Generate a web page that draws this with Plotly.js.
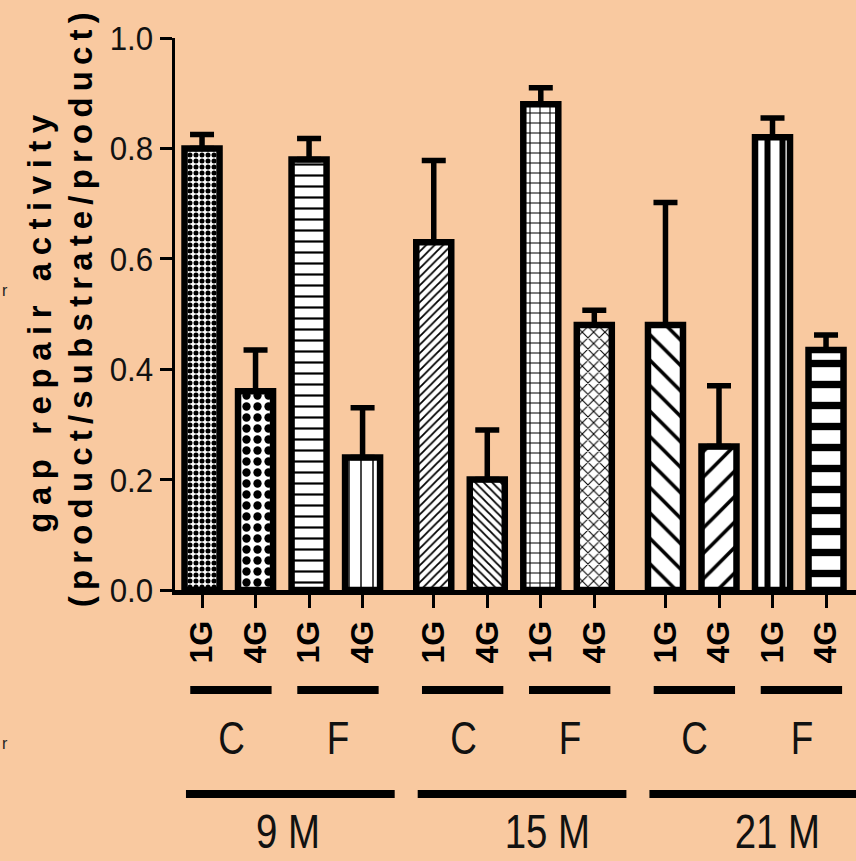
<!DOCTYPE html>
<html>
<head>
<meta charset="utf-8">
<script src="https://cdn.plot.ly/plotly-3.0.1.min.js"></script>
<style>html,body{margin:0;padding:0;background:#F9C9A0;}</style>
</head>
<body>
<div id="chart" style="width:856px;height:861px;"></div>
<script>
// ---- data ----
const ages = ['9 M', '15 M', '21 M'];
const diets = ['C', 'F'];
const gLabels = ['1G', '4G'];
const means = [0.80, 0.36, 0.78, 0.24, 0.63, 0.20, 0.88, 0.48, 0.48, 0.26, 0.82, 0.435];
const errsUp = [0.025, 0.075, 0.038, 0.09, 0.148, 0.09, 0.03, 0.027, 0.222, 0.11, 0.035, 0.027];
const yTitle1 = 'gap repair activity';
const yTitle2 = '(product/substrate/product)';

// ---- styles ----
const patShape = ['.', '.', '-', '|', '/', '\\', '+', 'x', '\\', '/', '|', '-'];
const patSize  = [6, 11, 11, 12, 6, 6, 10, 8, 18, 18, 15, 21];
const patSolid = [0.55, 0.45, 0.2, 0.12, 0.3, 0.3, 0.2, 0.25, 0.2, 0.2, 0.4, 0.35];
const GROUP_GAP = 0.33;
const SANS = '"Liberation Sans", Arial, sans-serif';
const BG = '#F9C9A0';

// ---- positions derived from structure ----
const xpos = [], ticktext = [];
ages.forEach((a, ai) => diets.forEach((d, di) => gLabels.forEach((g, gi) => {
  xpos.push(ai * (4 + GROUP_GAP) + di * 2 + gi);
  ticktext.push(g);
})));
const zeros = means.map(() => 0);

const shapes = [];
const annotations = [];
const yPaper = Y => (590 - Y) / 552;
ages.forEach((a, ai) => {
  const base = ai * (4 + GROUP_GAP);
  diets.forEach((d, di) => {
    const s = base + di * 2;
    shapes.push({type: 'line', xref: 'x', yref: 'paper', x0: s - 0.22, x1: s + 1 + 0.3,
      y0: yPaper(690), y1: yPaper(690), line: {color: 'black', width: 8}});
    annotations.push({xref: 'x', yref: 'paper', x: s + 0.55, y: yPaper(738), text: d,
      showarrow: false, xanchor: 'center', yanchor: 'middle',
      font: {family: SANS, size: 46, color: '#111'}});
  });
  shapes.push({type: 'line', xref: 'x', yref: 'paper', x0: base - 0.3, x1: base + 3.6,
    y0: yPaper(794), y1: yPaper(794), line: {color: 'black', width: 8}});
});
const ageLabelOffset = [1.6, 2.12, 2.1];
ages.forEach((a, ai) => {
  annotations.push({xref: 'x', yref: 'paper', x: ai * (4 + GROUP_GAP) + ageLabelOffset[ai], y: yPaper(831),
    text: a, showarrow: false, xanchor: 'center', yanchor: 'middle',
    font: {family: SANS, size: 48, color: '#111'}});
});
// y-axis title lines
annotations.push({xref: 'paper', yref: 'paper', x: 0, xshift: 39 - 175, y: yPaper(324), text: yTitle1,
  textangle: -90, showarrow: false, xanchor: 'center', yanchor: 'middle',
  font: {family: SANS, size: 33, weight: 'bold', color: 'black'}});
annotations.push({xref: 'paper', yref: 'paper', x: 0, xshift: 80 - 175, y: yPaper(310), text: yTitle2,
  textangle: -90, showarrow: false, xanchor: 'center', yanchor: 'middle',
  font: {family: SANS, size: 33, weight: 'bold', color: 'black'}});
// cropped stray letters at left edge
[290, 743].forEach(Y => annotations.push({xref: 'paper', yref: 'paper', x: 0, xshift: 5 - 175, y: yPaper(Y),
  text: 'r', showarrow: false, xanchor: 'center', yanchor: 'middle',
  font: {family: SANS, size: 16, color: '#222'}}));

const trace = {
  type: 'bar', x: xpos, y: means, width: 0.654,
  marker: {
    color: 'white',
    line: {color: 'black', width: 6.5},
    pattern: {shape: patShape, size: patSize, solidity: patSolid, fgcolor: 'black', bgcolor: 'white', fillmode: 'replace'}
  },
  error_y: {type: 'data', symmetric: false, array: errsUp, arrayminus: zeros, color: 'black', thickness: 5.5, width: 12},
  hoverinfo: 'skip'
};

const layout = {
  width: 856, height: 861,
  paper_bgcolor: BG, plot_bgcolor: 'rgba(0,0,0,0)',
  margin: {l: 175, r: 0, t: 38, b: 271, pad: 0},
  showlegend: false,
  xaxis: {
    range: [-0.505, 12.22], showline: true, linecolor: 'black', linewidth: 5,
    ticks: 'outside', ticklen: 13, tickwidth: 3, tickcolor: 'black',
    tickmode: 'array', tickvals: xpos, ticktext: ticktext, tickangle: -90,
    tickfont: {family: SANS, size: 32, weight: 'bold', color: 'black'},
    showgrid: false, zeroline: false, fixedrange: true
  },
  yaxis: {
    range: [0, 1], tick0: 0, dtick: 0.2, tickformat: '.1f',
    showline: true, linecolor: 'black', linewidth: 3,
    ticks: 'outside', ticklen: 12, tickwidth: 3, tickcolor: 'black',
    tickfont: {family: SANS, size: 34, color: '#111'},
    showgrid: false, zeroline: false, fixedrange: true
  },
  shapes: shapes,
  annotations: annotations
};

function squeeze(el, ratio) {
  const n = el.getComputedTextLength();
  if (n > 0) {
    el.setAttribute('textLength', (n * ratio).toFixed(1));
    el.setAttribute('lengthAdjust', 'spacingAndGlyphs');
  }
}

Plotly.newPlot('chart', [trace], layout, {displayModeBar: false, staticPlot: true}).then(gd => {
  const targetLen = {};
  targetLen[yTitle1] = 418;
  targetLen[yTitle2] = 595;
  const narrowTexts = new Set(diets.concat(ages));
  gd.querySelectorAll('.annotation-text').forEach(t => {
    const s = t.textContent;
    if (targetLen[s]) { t.setAttribute('textLength', targetLen[s]); t.setAttribute('lengthAdjust', 'spacing'); }
    else if (narrowTexts.has(s)) squeeze(t, 0.8);
  });
  gd.querySelectorAll('.ytick text').forEach(t => squeeze(t, 0.92));
});
</script>
</body>
</html>
